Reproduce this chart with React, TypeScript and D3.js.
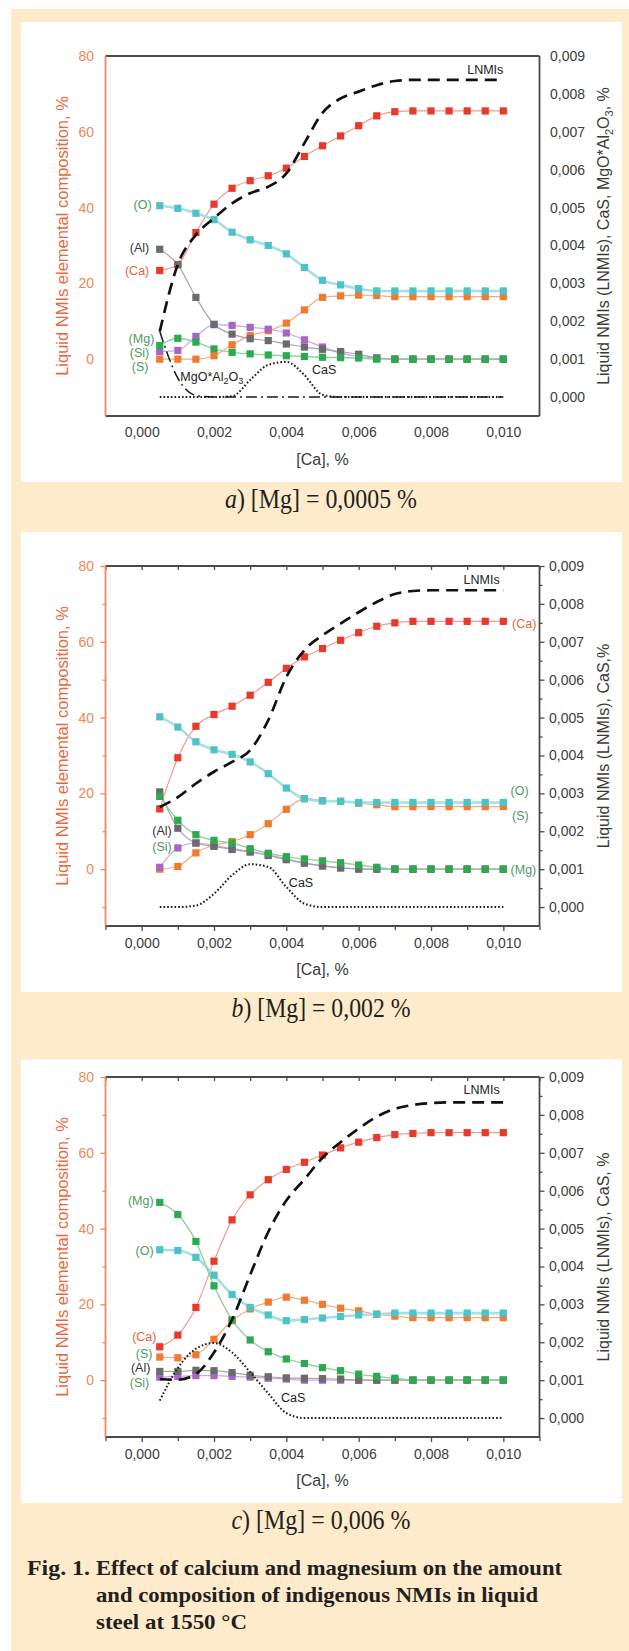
import React, { useEffect, useRef } from "react";
import * as d3 from "d3";

const W = 629;
const H = 1651;

// [Ca], % : the 20 calculation points
const caX = [0.0005, 0.001, 0.0015, 0.002, 0.0025, 0.003, 0.0035, 0.004, 0.0045, 0.005,
  0.0055, 0.006, 0.0065, 0.007, 0.0075, 0.008, 0.0085, 0.009, 0.0095, 0.01];

const leftTicks = [0, 20, 40, 60, 80];
const leftMinor = [-10, 10, 30, 50, 70];
const rightTicks = [0, 0.001, 0.002, 0.003, 0.004, 0.005, 0.006, 0.007, 0.008, 0.009];
const rightMinor = [0.0005, 0.0015, 0.0025, 0.0035, 0.0045, 0.0055, 0.0065, 0.0075, 0.0085];
const xTicks = [0, 0.002, 0.004, 0.006, 0.008, 0.01];
const xMinor = [-0.001, 0.001, 0.003, 0.005, 0.007, 0.009, 0.011];

// a) [Mg] = 0,0005 %
const aCa = [23.4, 25.0, 33.4, 40.9, 45.1, 47.1, 48.4, 50.4, 53.5, 56.3, 58.9, 61.6, 64.2, 65.3, 65.5, 65.5, 65.5, 65.5, 65.5, 65.5];
const aO = [40.5, 39.8, 38.5, 36.8, 33.5, 31.5, 30.0, 27.8, 24.2, 20.8, 19.6, 18.6, 18.0, 18.0, 18.0, 18.0, 18.0, 18.0, 18.0, 18.0];
const aS = [0, 0, 0, 0.9, 3.8, 6.2, 7.5, 9.5, 13.0, 16.3, 16.7, 16.9, 16.8, 16.5, 16.5, 16.5, 16.5, 16.5, 16.5, 16.5];
const aAl = [29.0, 24.9, 16.3, 9.2, 6.6, 5.4, 4.9, 4.0, 3.2, 2.6, 2.0, 1.3, 0.3, 0, 0, 0, 0, 0, 0, 0];
const aSi = [2.0, 2.3, 6.0, 9.1, 8.9, 8.4, 7.9, 6.9, 5.1, 3.2, 1.6, 0.7, 0.3, 0, 0, 0, 0, 0, 0, 0];
const aMg = [3.6, 5.5, 4.5, 2.7, 1.8, 1.4, 1.1, 0.9, 0.7, 0.5, 0.4, 0.3, 0, 0, 0, 0, 0, 0, 0, 0];
const aLNMI = [0.00173, 0.0035, 0.00428, 0.00472, 0.00511, 0.00538, 0.00555, 0.0059, 0.0067, 0.0075,
  0.00788, 0.00806, 0.00823, 0.00834, 0.00837, 0.00837, 0.00837, 0.00837, 0.00837, 0.00837];
const aCaS = [0, 0, 0, 0, 0.00002, 0.00045, 0.00085, 0.00093, 0.00058, 0.00006, 0, 0, 0, 0, 0, 0, 0, 0, 0, 0];
const aSpinel = [0.00173, 0.0005, 0.00004, 0, 0, 0, 0, 0, 0, 0, 0, 0, 0, 0, 0, 0, 0, 0, 0, 0];

// b) [Mg] = 0,002 %
const bCa = [15.9, 29.4, 37.7, 40.8, 43.0, 45.9, 49.3, 53.0, 56.0, 58.2, 60.4, 62.4, 64.1, 65.0, 65.4, 65.4, 65.4, 65.4, 65.4, 65.4];
const bO = [40.2, 37.5, 33.6, 31.5, 30.3, 28.3, 25.2, 21.4, 18.6, 18.0, 17.9, 17.6, 17.6, 17.6, 17.6, 17.6, 17.6, 17.6, 17.6, 17.6];
const bS = [0, 0.7, 4.3, 6.3, 7.3, 9.1, 12.0, 15.8, 18.6, 18.1, 17.9, 17.4, 17.0, 16.5, 16.5, 16.5, 16.5, 16.5, 16.5, 16.5];
const bAl = [20.4, 10.8, 6.9, 6.0, 5.2, 4.5, 3.6, 2.5, 1.6, 0.9, 0.3, 0, 0, 0, 0, 0, 0, 0, 0, 0];
const bSi = [0.5, 5.6, 6.9, 6.3, 5.4, 4.7, 3.8, 2.7, 1.6, 0.8, 0.4, 0.1, 0, 0, 0, 0, 0, 0, 0, 0];
const bMg = [19.2, 12.9, 9.1, 7.6, 6.9, 5.4, 4.2, 3.3, 2.7, 2.2, 1.7, 1.1, 0.5, 0, 0, 0, 0, 0, 0, 0];
const bLNMI = [0.00264, 0.0029, 0.00326, 0.00357, 0.00383, 0.00414, 0.00493, 0.00607, 0.00678, 0.00717,
  0.00748, 0.00778, 0.00805, 0.00826, 0.00834, 0.00836, 0.00836, 0.00836, 0.00836, 0.00836];
const bCaS = [0, 0, 0.00004, 0.00035, 0.00084, 0.00113, 0.00106, 0.00053, 0.00009, 0, 0, 0, 0, 0, 0, 0, 0, 0, 0, 0];

// c) [Mg] = 0,006 %
const cCa = [8.8, 11.9, 19.2, 31.4, 42.3, 48.9, 52.9, 55.6, 57.5, 59.4, 61.3, 62.8, 64.0, 64.8, 65.1, 65.3, 65.3, 65.3, 65.3, 65.3];
const cO = [34.4, 34.2, 32.4, 27.7, 22.6, 19.2, 17.2, 15.7, 16.0, 16.4, 16.8, 17.2, 17.4, 17.7, 17.7, 17.7, 17.7, 17.7, 17.7, 17.7];
const cS = [6.1, 5.9, 6.7, 10.8, 15.7, 18.8, 20.6, 21.9, 21.1, 20.0, 19.0, 18.3, 17.4, 16.9, 16.5, 16.5, 16.5, 16.5, 16.5, 16.5];
const cAl = [2.3, 2.3, 2.6, 2.5, 2.0, 1.3, 0.9, 0.6, 0.5, 0.4, 0.3, 0, 0, 0, 0, 0, 0, 0, 0, 0];
const cSi = [0.8, 1.0, 1.2, 1.2, 1.0, 0.8, 0.5, 0.3, 0, 0, 0, 0, 0, 0, 0, 0, 0, 0, 0, 0];
const cMg = [46.9, 43.7, 36.6, 24.9, 15.9, 10.6, 7.5, 5.6, 4.4, 3.3, 2.5, 1.6, 1.0, 0.5, 0, 0, 0, 0, 0, 0];
const cLNMI = [0.00103, 0.00101, 0.00116, 0.00173, 0.0026, 0.00378, 0.00491, 0.00574, 0.0063, 0.00687,
  0.00728, 0.00764, 0.00795, 0.00816, 0.00826, 0.00831, 0.00833, 0.00833, 0.00833, 0.00833];
const cCaS = [0.00046, 0.00132, 0.00183, 0.00198, 0.00173, 0.00121, 0.00065, 0.00013, 0, 0, 0, 0, 0, 0, 0, 0, 0, 0, 0, 0];

// styles
const SANS = "'Liberation Sans', Arial, sans-serif";
const SERIF = "'Liberation Serif', 'Times New Roman', serif";
const GREEN_TXT = "#4f9a5c";
const ORANGE = "#ec8a58";
const series = [
  { key: "Ca", fill: "#e8392b", line: "#f39a8a", lw: 1.2 },
  { key: "S", fill: "#f07a30", line: "#f6ab7c", lw: 1.2 },
  { key: "O", fill: "#4dc3c8", line: "#a6e0e2", lw: 2.6 },
  { key: "Si", fill: "#a765c4", line: "#cfa6de", lw: 1.2 },
  { key: "Al", fill: "#6b6b6d", line: "#a4a4a6", lw: 1.2 },
  { key: "Mg", fill: "#2fa950", line: "#8fd39e", lw: 1.4 },
];

const panels = [
  {
    top: 56, boxTop: 22, ticks: false, letter: "a", cap: ") [Mg] = 0,0005 %", capY: 508, capLen: 192,
    rightTitle: "spinel",
    data: { Ca: aCa, O: aO, S: aS, Al: aAl, Si: aSi, Mg: aMg },
    lnmi: aLNMI, cas: aCaS, spinel: aSpinel,
    labels: [
      { t: "(O)", x: 0.000275, y: 40.9, c: GREEN_TXT, a: "end" },
      { t: "(Al)", x: 0.00021, y: 29.5, c: "#333", a: "end" },
      { t: "(Ca)", x: 0.00021, y: 23.4, c: "#e8643c", a: "end" },
      { t: "(Mg)", x: 0.00035, y: 5.5, c: GREEN_TXT, a: "end" },
      { t: "(Si)", x: 0.00021, y: 1.8, c: GREEN_TXT, a: "end" },
      { t: "(S)", x: 0.00019, y: -2.0, c: GREEN_TXT, a: "end" },
      { t: "CaS", x: 0.00471, y: -2.85, c: "#222", a: "start" },
      { t: "LNMIs", x: 0.0100, y: 76.5, c: "#222", a: "end" },
    ],
  },
  {
    top: 566, boxTop: 532, ticks: true, letter: "b", cap: ") [Mg] = 0,002 %", capY: 1017, capLen: 179,
    rightTitle: "Liquid NMIs (LNMIs), CaS,%",
    data: { Ca: bCa, O: bO, S: bS, Al: bAl, Si: bSi, Mg: bMg },
    lnmi: bLNMI, cas: bCaS, spinel: null,
    labels: [
      { t: "(Ca)", x: 0.01024, y: 64.9, c: "#e8643c", a: "start" },
      { t: "(O)", x: 0.0102, y: 20.7, c: GREEN_TXT, a: "start" },
      { t: "(S)", x: 0.01024, y: 14.0, c: GREEN_TXT, a: "start" },
      { t: "(Mg)", x: 0.0102, y: 0, c: GREEN_TXT, a: "start" },
      { t: "(Al)", x: 0.00083, y: 10.3, c: "#333", a: "end" },
      { t: "(Si)", x: 0.00083, y: 5.9, c: GREEN_TXT, a: "end" },
      { t: "CaS", x: 0.00407, y: -3.6, c: "#222", a: "start" },
      { t: "LNMIs", x: 0.0099, y: 76.3, c: "#222", a: "end" },
    ],
  },
  {
    top: 1077, boxTop: 1059.5, ticks: true, letter: "c", cap: ") [Mg] = 0,006 %", capY: 1529, capLen: 179,
    rightTitle: "Liquid NMIs (LNMIs), CaS, %",
    data: { Ca: cCa, O: cO, S: cS, Al: cAl, Si: cSi, Mg: cMg },
    lnmi: cLNMI, cas: cCaS, spinel: null,
    labels: [
      { t: "(Mg)", x: 0.00033, y: 47.3, c: GREEN_TXT, a: "end" },
      { t: "(O)", x: 0.00033, y: 34.3, c: GREEN_TXT, a: "end" },
      { t: "(Ca)", x: 0.00041, y: 11.6, c: "#e8643c", a: "end" },
      { t: "(S)", x: 0.0003, y: 7.0, c: GREEN_TXT, a: "end" },
      { t: "(Al)", x: 0.00024, y: 3.2, c: "#333", a: "end" },
      { t: "(Si)", x: 0.00021, y: -0.6, c: GREEN_TXT, a: "end" },
      { t: "CaS", x: 0.00385, y: -4.6, c: "#222", a: "start" },
      { t: "LNMIs", x: 0.0099, y: 76.6, c: "#222", a: "end" },
    ],
  },
];

const fmtComma = (d: number) => d3.format(".3f")(d).replace(".", ",");

function drawPanel(svg: any, p: any) {
  const g = svg.append("g");
  const x = d3.scaleLinear().domain([-0.001, 0.011]).range([105.5, 539.5]);
  const yL = d3.scaleLinear().domain([-15, 80]).range([p.top + 360, p.top]);
  const yR = d3.scaleLinear().domain([-0.0005, 0.009]).range([p.top + 360, p.top]);
  const bottom = p.top + 360;

  // white panel
  g.append("rect")
    .attr("x", 21).attr("y", p.boxTop)
    .attr("width", 601).attr("height", bottom + 66 - p.boxTop)
    .attr("fill", "#ffffff");

  const tk = p.ticks ? 5 : 0;

  // bottom axis
  const xb = g.append("g").attr("transform", `translate(0,${bottom})`)
    .call(d3.axisBottom(x).tickValues(xTicks).tickFormat(fmtComma).tickSize(tk).tickPadding(p.ticks ? 7 : 11.5));
  if (p.ticks) {
    g.append("g").attr("transform", `translate(0,${bottom})`)
      .call(d3.axisBottom(x).tickValues(xMinor).tickFormat(() => "").tickSize(4));
    g.append("g").attr("transform", `translate(0,${p.top})`)
      .call(d3.axisTop(x).tickValues(xTicks.concat(xMinor)).tickFormat(() => "").tickSize(-4));
  }
  // left axis
  g.append("g").attr("transform", "translate(105.5,0)")
    .call(d3.axisLeft(yL).tickValues(leftTicks).tickSize(tk).tickPadding(p.ticks ? 6.5 : 11.5))
    .attr("class", "lax");
  if (p.ticks) {
    g.append("g").attr("transform", "translate(105.5,0)")
      .call(d3.axisLeft(yL).tickValues(leftMinor).tickFormat(() => "").tickSize(3))
      .attr("class", "lax");
  }
  // right axis
  g.append("g").attr("transform", "translate(539.5,0)")
    .call(d3.axisRight(yR).tickValues(rightTicks).tickFormat(fmtComma).tickSize(tk).tickPadding(p.ticks ? 4.5 : 10.5));
  if (p.ticks) {
    g.append("g").attr("transform", "translate(539.5,0)")
      .call(d3.axisRight(yR).tickValues(rightMinor).tickFormat(() => "").tickSize(3));
  }

  g.selectAll(".domain").remove();
  g.selectAll(".tick text").attr("font-family", SANS).attr("font-size", 14).attr("fill", "#3d3d3d");
  g.selectAll(".tick line").attr("stroke", "#4a4a4a").attr("stroke-width", 1.3);
  g.selectAll(".lax .tick text").attr("fill", ORANGE);
  g.selectAll(".lax .tick line").attr("stroke", ORANGE);

  // frame
  const fr = g.append("g").attr("stroke-width", 1.8).attr("fill", "none");
  fr.append("line").attr("x1", 105.5).attr("x2", 539.5).attr("y1", p.top).attr("y2", p.top).attr("stroke", "#4a4a4a");
  fr.append("line").attr("x1", 105.5).attr("x2", 539.5).attr("y1", bottom).attr("y2", bottom).attr("stroke", "#4a4a4a");
  fr.append("line").attr("x1", 539.5).attr("x2", 539.5).attr("y1", p.top).attr("y2", bottom).attr("stroke", "#4a4a4a");
  fr.append("line").attr("x1", 105.5).attr("x2", 105.5).attr("y1", p.top).attr("y2", bottom).attr("stroke", ORANGE);

  // axis titles
  const mid = p.top + 180;
  g.append("text")
    .attr("transform", `translate(68,${mid}) rotate(-90)`)
    .attr("text-anchor", "middle").attr("font-family", SANS).attr("font-size", 16.5)
    .attr("fill", "#e8693f")
    .text("Liquid NMIs elemental composition, %");

  const rt = g.append("text")
    .attr("transform", `translate(609,${mid}) rotate(-90)`)
    .attr("text-anchor", "middle").attr("font-family", SANS).attr("font-size", 16)
    .attr("fill", "#3a3a3a");
  if (p.rightTitle === "spinel") {
    rt.append("tspan").text("Liquid NMIs (LNMIs), CaS, MgO*Al");
    rt.append("tspan").attr("dy", 4).attr("font-size", 11).text("2");
    rt.append("tspan").attr("dy", -4).text("O");
    rt.append("tspan").attr("dy", 4).attr("font-size", 11).text("3");
    rt.append("tspan").attr("dy", -4).text(", %");
  } else {
    rt.text(p.rightTitle);
  }

  g.append("text")
    .attr("x", 322.5).attr("y", bottom + 49)
    .attr("text-anchor", "middle").attr("font-family", SANS).attr("font-size", 16)
    .attr("fill", "#3a3a3a").text("[Ca], %");

  // element series
  const pts = (vals: number[]) => vals.map((v, i) => [caX[i], v] as [number, number]);
  const lineL = d3.line<[number, number]>().x((d) => x(d[0])).y((d) => yL(d[1])).curve(d3.curveMonotoneX);
  series.forEach((s) => {
    g.append("path").datum(pts(p.data[s.key]))
      .attr("d", lineL).attr("fill", "none")
      .attr("stroke", s.line).attr("stroke-width", s.lw);
  });
  series.forEach((s) => {
    g.append("g").selectAll("rect").data(pts(p.data[s.key])).join("rect")
      .attr("x", (d) => x(d[0]) - 3.6).attr("y", (d) => yL(d[1]) - 3.6)
      .attr("width", 7.2).attr("height", 7.2)
      .attr("fill", s.fill);
  });

  // amounts on right axis
  const lineR = d3.line<[number, number]>().x((d) => x(d[0])).y((d) => yR(d[1])).curve(d3.curveMonotoneX);
  g.append("path").datum(pts(p.cas)).attr("d", lineR).attr("fill", "none")
    .attr("stroke", "#1a1a1a").attr("stroke-width", 2).attr("stroke-dasharray", "1.6 2.1");
  if (p.spinel) {
    g.append("path").datum(pts(p.spinel)).attr("d", lineR).attr("fill", "none")
      .attr("stroke", "#1a1a1a").attr("stroke-width", 1.5).attr("stroke-dasharray", "11 4 2 4");
  }
  g.append("path").datum(pts(p.lnmi)).attr("d", lineR).attr("fill", "none")
    .attr("stroke", "#111").attr("stroke-width", 2.7).attr("stroke-dasharray", "12 7");

  // labels
  p.labels.forEach((l: any) => {
    g.append("text")
      .attr("x", x(l.x)).attr("y", yL(l.y)).attr("dy", "0.35em")
      .attr("text-anchor", l.a).attr("font-family", SANS).attr("font-size", 12.5)
      .attr("fill", l.c).text(l.t);
  });
  if (p.spinel) {
    const st = g.append("text")
      .attr("x", x(0.00107)).attr("y", yL(-4.6)).attr("dy", "0.35em")
      .attr("font-family", SANS).attr("font-size", 12.5).attr("fill", "#222");
    st.append("tspan").text("MgO*Al");
    st.append("tspan").attr("dy", 3.5).attr("font-size", 9).text("2");
    st.append("tspan").attr("dy", -3.5).text("O");
    st.append("tspan").attr("dy", 3.5).attr("font-size", 9).text("3");
  }

  // panel caption
  const cap = g.append("text")
    .attr("x", 321).attr("y", p.capY).attr("text-anchor", "middle")
    .attr("font-family", SERIF).attr("font-size", 27).attr("fill", "#231f20")
    .attr("textLength", p.capLen).attr("lengthAdjust", "spacingAndGlyphs");
  cap.append("tspan").attr("font-style", "italic").text(p.letter);
  cap.append("tspan").text(p.cap);
}

export default function App() {
  const ref = useRef<SVGSVGElement>(null);

  useEffect(() => {
    const svg = d3.select(ref.current);
    svg.selectAll("*").remove();

    svg.append("rect").attr("width", W).attr("height", H).attr("fill", "#ffffff");
    svg.append("rect").attr("x", 11).attr("y", 9).attr("width", W - 11).attr("height", H - 9).attr("fill", "#fdebcb");

    panels.forEach((p) => drawPanel(svg, p));

    // figure caption
    const fc = svg.append("g").attr("font-family", SERIF).attr("font-weight", "bold")
      .attr("font-size", 21).attr("fill", "#231f20");
    fc.append("text").attr("x", 27).attr("y", 1575)
      .attr("textLength", 63).attr("lengthAdjust", "spacingAndGlyphs").text("Fig. 1.");
    fc.append("text").attr("x", 96).attr("y", 1575)
      .attr("textLength", 466).attr("lengthAdjust", "spacingAndGlyphs")
      .text("Effect of calcium and magnesium on the amount");
    fc.append("text").attr("x", 96).attr("y", 1602)
      .attr("textLength", 442).attr("lengthAdjust", "spacingAndGlyphs")
      .text("and composition of indigenous NMIs in liquid");
    fc.append("text").attr("x", 96).attr("y", 1628.5)
      .attr("textLength", 151).attr("lengthAdjust", "spacingAndGlyphs")
      .text("steel at 1550 °C");
  }, []);

  return (
    <div style={{ position: "absolute", left: 0, top: 0 }}>
      <svg ref={ref} width={W} height={H} style={{ display: "block" }}></svg>
    </div>
  );
}
